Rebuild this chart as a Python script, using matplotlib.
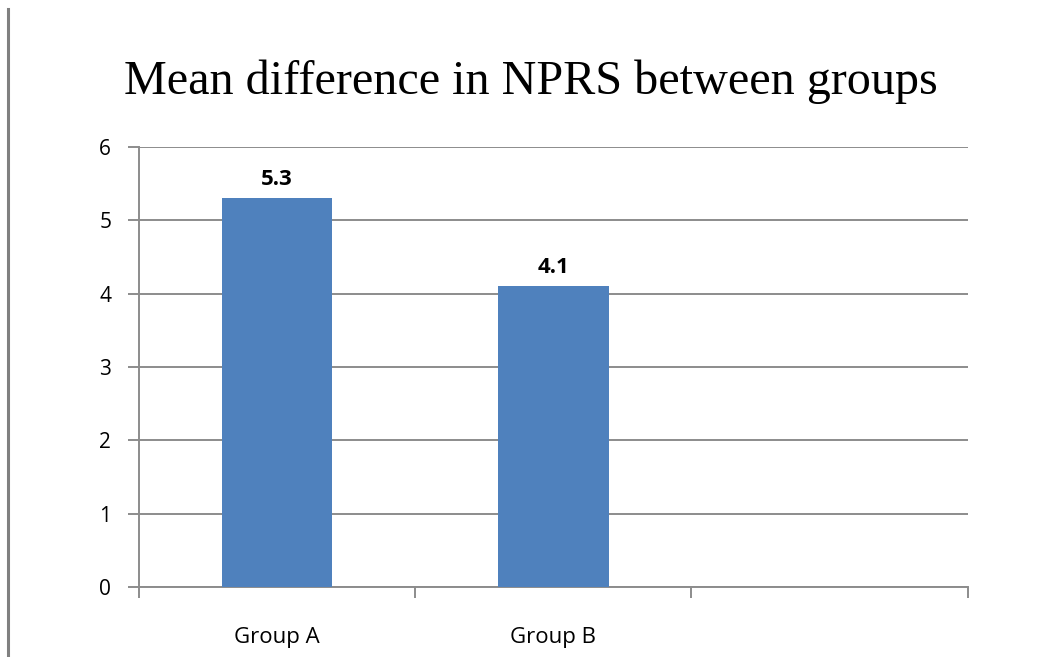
import matplotlib
matplotlib.use("Agg")
import matplotlib.pyplot as plt
from matplotlib.lines import Line2D

categories = ["Group A", "Group B", ""]
values = [5.3, 4.1, None]
value_labels = ["5.3", "4.1"]
y_ticks = [0, 1, 2, 3, 4, 5, 6]

bar_color = "#4F81BD"
grid_color = "#8C8C8C"

fig = plt.figure(figsize=(10.61, 6.57), dpi=100)
ax = fig.add_axes([0.131, 0.1065, 0.781, 0.6695])

xs = list(range(len(categories)))
for x, v, lab in zip(xs, values, value_labels + [None]):
    if v is None:
        continue
    ax.bar(x, v, width=0.4, color=bar_color, zorder=3)
    ax.text(x, v + 0.12, lab, ha="center", va="bottom",
            fontsize=16, fontweight="bold", family="Open Sans", zorder=4)

ax.set_xlim(-0.5, len(categories) - 0.5)
ax.set_ylim(0, 6)
ax.set_yticks(y_ticks)
ax.set_yticklabels([str(t) for t in y_ticks], family="Open Sans", fontsize=15)
ax.yaxis.grid(True, color=grid_color, linewidth=1.4, zorder=0)

# category ticks sit at the boundaries between groups
ax.set_xticks([i - 0.5 for i in range(len(categories) + 1)])
ax.set_xticklabels([])
ax.set_xticks(xs, minor=True)
ax.set_xticklabels(categories, minor=True, family="Open Sans", fontsize=16)
ax.tick_params(axis="x", which="minor", length=0, pad=29)
ax.tick_params(axis="x", which="major", length=8, width=1.4, color=grid_color, direction="out")
ax.tick_params(axis="y", length=8, width=1.4, color=grid_color, direction="out", pad=12)

for side in ("top", "right"):
    ax.spines[side].set_visible(False)
for side in ("left", "bottom"):
    ax.spines[side].set_color(grid_color)
    ax.spines[side].set_linewidth(1.4)

fig.text(0.5, 0.875, "Mean difference in NPRS between groups", ha="center", va="center",
         family="Liberation Serif", fontsize=34.7)

fig.add_artist(Line2D([8 / 1061, 8 / 1061], [0, 1 - 9 / 657], transform=fig.transFigure,
                      color="#808080", linewidth=2.2))

fig.savefig("out.png", dpi=100)
